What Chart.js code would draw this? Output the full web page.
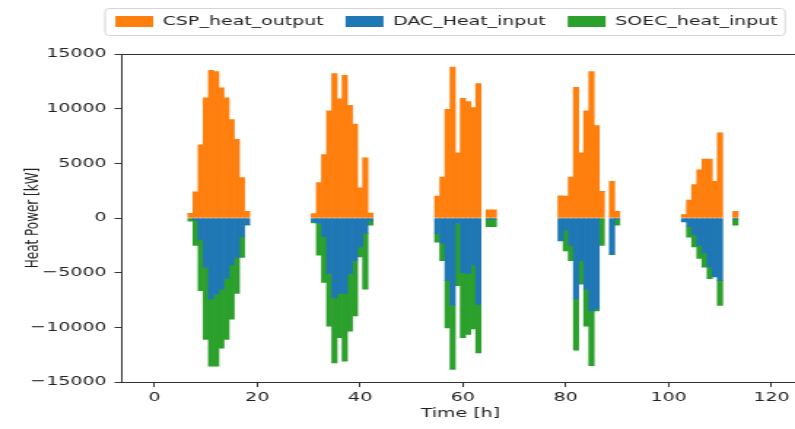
<!DOCTYPE html>
<html>
<head>
<meta charset="utf-8">
<script src="https://cdn.jsdelivr.net/npm/chart.js@4.4.1/dist/chart.umd.min.js"></script>
<style>
html, body { margin: 0; padding: 0; background: #fff; width: 795px; height: 429px; overflow: hidden; }
/* the reference figure is stretched sideways, so the canvas is too */
#wrap { width: 550px; height: 429px; transform: scaleX(1.4587); transform-origin: 0 0; }
canvas { display: block; }
</style>
</head>
<body>
<div id="wrap"><canvas id="heatChart" width="550" height="429"></canvas></div>
<script>
// hourly values, one entry per hour in `hours`
const hours = [
    7, 8, 9, 10, 11, 12, 13, 14, 15, 16, 17, 18,
    31, 32, 33, 34, 35, 36, 37, 38, 39, 40, 41, 42,
    55, 56, 57, 58, 59, 60, 61, 62, 63, 65, 66,
    79, 80, 81, 82, 83, 84, 85, 86, 87, 89, 90,
    103, 104, 105, 106, 107, 108, 109, 110, 113
];
const cspHeat = [
    400, 2400, 6700, 11000, 13500, 13400, 11900, 11000, 9000, 7200, 3700, 600,
    400, 3250, 5800, 9800, 13200, 10900, 13050, 10300, 8600, 2750, 5500, 450,
    2000, 3750, 9950, 13800, 5950, 10950, 10650, 10100, 12300, 750, 750,
    2000, 2000, 3750, 11950, 5950, 9800, 13400, 8450, 2450, 3350, 600,
    300, 1650, 3050, 4400, 5400, 5400, 3350, 7800, 600
];
const dacHeat = [
    0, -200, -2000, -4500, -7400, -7000, -6500, -5500, -4300, -3600, -1700, -600,
    -350, -500, -1700, -5100, -7300, -6900, -6900, -5100, -3900, -2650, -1400, -250,
    -1400, -2300, -5700, -8000, -500, -5000, -5100, -4300, -7900, -100, -100,
    -2100, -1100, -2500, -7400, -3900, -6500, -8500, -8300, 0, -3300, -100,
    -350, -800, -1550, -2500, -3250, -4500, -5400, -5700, -100
];
const soecHeat = [
    -300, -2300, -4650, -6600, -6150, -6550, -5400, -5600, -4950, -3300, -1900, -50,
    -100, -2900, -4200, -4800, -5950, -4050, -6200, -5250, -5050, -900, -5100, -400,
    -800, -1600, -4350, -5850, -5700, -5950, -5550, -5850, -4450, -700, -700,
    0, -1900, -1400, -4700, -2150, -3400, -5000, -200, -2500, -50, -550,
    0, -950, -1100, -1200, -1250, -1050, 0, -2300, -550
];
const xTicks = [0, 20, 40, 60, 80, 100, 120];
const yTicks = [-15000, -10000, -5000, 0, 5000, 10000, 15000];

const toPoints = vals => hours.map((h, i) => ({ x: h, y: vals[i] }));
const fontFamily = '"DejaVu Sans", sans-serif';
const textColor = '#222';

// make room between legend and plot
const legendSpace = {
    id: 'legendSpace',
    beforeInit(chart) {
        const fit = chart.legend.fit;
        chart.legend.fit = function () {
            fit.call(this);
            this.height = 54;
        };
    }
};

// legend frame + top spine
const frameLines = {
    id: 'frameLines',
    afterDraw(chart) {
        const ctx = chart.ctx;
        const area = chart.chartArea;
        ctx.save();
        ctx.strokeStyle = '#333';
        ctx.lineWidth = 1;
        ctx.beginPath();
        ctx.moveTo(area.left, Math.round(area.top) + 0.5);
        ctx.lineTo(area.right, Math.round(area.top) + 0.5);
        ctx.stroke();

        const boxes = chart.legend.legendHitBoxes;
        if (boxes && boxes.length) {
            const first = boxes[0];
            const last = boxes[boxes.length - 1];
            const x0 = first.left - 7;
            const x1 = last.left + last.width + 5;
            const y0 = first.top - 7;
            const y1 = first.top + first.height + 7;
            ctx.strokeStyle = '#d4d4d4';
            ctx.beginPath();
            ctx.roundRect(x0, y0 + 0.5, x1 - x0, y1 - y0, 3);
            ctx.stroke();
        }
        ctx.restore();
    }
};

const ctx = document.getElementById('heatChart').getContext('2d');
new Chart(ctx, {
    type: 'bar',
    data: {
        datasets: [
            {
                label: 'CSP_heat_output',
                data: toPoints(cspHeat),
                backgroundColor: '#ff7f0e'
            },
            {
                label: 'DAC_Heat_input',
                data: toPoints(dacHeat),
                backgroundColor: '#1f77b4'
            },
            {
                label: 'SOEC_heat_input',
                data: toPoints(soecHeat),
                backgroundColor: '#2ca02c'
            }
        ]
    },
    options: {
        responsive: false,
        animation: false,
        barPercentage: 1,
        categoryPercentage: 1,
        borderWidth: 0,
        layout: { padding: { left: 0, right: 1.8, top: 0, bottom: 0 } },
        plugins: {
            tooltip: { enabled: false },
            legend: {
                position: 'top',
                align: 'end',
                labels: {
                    boxWidth: 26,
                    boxHeight: 11,
                    padding: 15,
                    color: textColor,
                    font: { family: fontFamily, size: 13 }
                }
            }
        },
        scales: {
            x: {
                type: 'linear',
                stacked: true,
                offset: false,
                min: -6.5,
                max: 125.5,
                afterBuildTicks: scale => { scale.ticks = xTicks.map(v => ({ value: v })); },
                afterFit: scale => { scale.height = 47; },
                grid: { offset: false, drawOnChartArea: false, drawTicks: true, tickLength: 5, color: '#333' },
                border: { display: true, color: '#333' },
                ticks: {
                    color: textColor,
                    padding: 3,
                    maxRotation: 0,
                    font: { family: fontFamily, size: 13 }
                },
                title: {
                    display: true,
                    text: 'Time [h]',
                    color: textColor,
                    padding: { top: 2, bottom: 8 },
                    font: { family: fontFamily, size: 13 }
                }
            },
            y: {
                stacked: true,
                min: -15000,
                max: 15000,
                afterBuildTicks: scale => { scale.ticks = yTicks.map(v => ({ value: v })); },
                afterFit: scale => { scale.width = 83; },
                grid: { offset: false, drawOnChartArea: false, drawTicks: true, tickLength: 4.5, color: '#333' },
                border: { display: true, color: '#333' },
                ticks: {
                    color: textColor,
                    padding: 5.4,
                    font: { family: fontFamily, size: 13 },
                    callback: v => v < 0 ? '\u2212' + Math.abs(v) : String(v)
                },
                title: {
                    display: true,
                    text: 'Heat Power [kW]',
                    color: textColor,
                    padding: { top: 16, bottom: 0 },
                    font: { family: fontFamily, size: 12 }
                }
            }
        }
    },
    plugins: [legendSpace, frameLines]
});
</script>
</body>
</html>
